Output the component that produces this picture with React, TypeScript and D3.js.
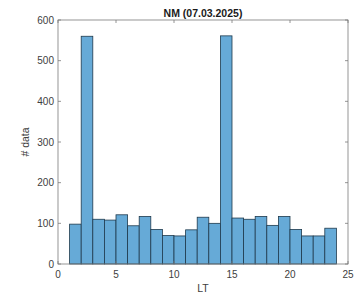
import React, { useEffect, useRef } from "react";
import * as d3 from "d3";

// histogram of LT, one bin per hour (bin edges 1..24)
const binEdges = [1, 2, 3, 4, 5, 6, 7, 8, 9, 10, 11, 12, 13, 14, 15, 16, 17, 18, 19, 20, 21, 22, 23, 24];
const counts = [98, 560, 110, 108, 121, 94, 117, 85, 70, 69, 84, 115, 100, 561, 113, 110, 117, 95, 117, 85, 69, 69, 88];
const xTicks = [0, 5, 10, 15, 20, 25];
const yTicks = [0, 100, 200, 300, 400, 500, 600];

const W = 358;
const H = 293;
const margin = { top: 20, right: 10, bottom: 29, left: 58 };

export default function App() {
  const ref = useRef<SVGSVGElement>(null);

  useEffect(() => {
    const svg = d3.select(ref.current);
    svg.selectAll("*").remove();

    const x = d3.scaleLinear().domain([0, 25]).range([margin.left, W - margin.right]);
    const y = d3.scaleLinear().domain([0, 600]).range([H - margin.bottom, margin.top]);

    const bins = counts.map((c, i) => ({ x0: binEdges[i], x1: binEdges[i + 1], c }));

    svg.append("g")
      .selectAll("rect")
      .data(bins)
      .enter()
      .append("rect")
      .attr("x", d => x(d.x0))
      .attr("y", d => y(d.c))
      .attr("width", d => x(d.x1) - x(d.x0))
      .attr("height", d => y(0) - y(d.c))
      .attr("fill", "#66aad7")
      .attr("stroke", "#1f3a4d")
      .attr("stroke-width", 0.8);

    const axisColor = "#7a7a7a";
    const font = "Liberation Sans, Arial, sans-serif";

    // box
    svg.append("rect")
      .attr("x", x(0))
      .attr("y", y(600))
      .attr("width", x(25) - x(0))
      .attr("height", y(0) - y(600))
      .attr("fill", "none")
      .attr("stroke", axisColor)
      .attr("stroke-width", 0.8);

    const tl = 3;
    // x ticks bottom + top
    xTicks.forEach(t => {
      svg.append("line").attr("x1", x(t)).attr("x2", x(t)).attr("y1", y(0)).attr("y2", y(0) - tl)
        .attr("stroke", axisColor).attr("stroke-width", 0.8);
      svg.append("line").attr("x1", x(t)).attr("x2", x(t)).attr("y1", y(600)).attr("y2", y(600) + tl)
        .attr("stroke", axisColor).attr("stroke-width", 0.8);
      svg.append("text").attr("x", x(t)).attr("y", y(0) + 14)
        .attr("text-anchor", "middle").attr("font-family", font).attr("font-size", 10)
        .attr("fill", "#404040").text(t);
    });
    // y ticks left + right
    yTicks.forEach(t => {
      svg.append("line").attr("x1", x(0)).attr("x2", x(0) + tl).attr("y1", y(t)).attr("y2", y(t))
        .attr("stroke", axisColor).attr("stroke-width", 0.8);
      svg.append("line").attr("x1", x(25)).attr("x2", x(25) - tl).attr("y1", y(t)).attr("y2", y(t))
        .attr("stroke", axisColor).attr("stroke-width", 0.8);
      svg.append("text").attr("x", x(0) - 4).attr("y", y(t) + 3.5)
        .attr("text-anchor", "end").attr("font-family", font).attr("font-size", 10)
        .attr("fill", "#404040").text(t);
    });

    svg.append("text").attr("x", (x(0) + x(25)) / 2).attr("y", 16.5)
      .attr("text-anchor", "middle").attr("font-family", font).attr("font-size", 10.5)
      .attr("font-weight", "bold").attr("fill", "#1a1a1a").text("NM (07.03.2025)");

    svg.append("text").attr("x", (x(0) + x(25)) / 2).attr("y", H - 1)
      .attr("text-anchor", "middle").attr("font-family", font).attr("font-size", 10.5)
      .attr("fill", "#404040").text("LT");

    svg.append("text")
      .attr("transform", `translate(29,${(y(0) + y(600)) / 2}) rotate(-90)`)
      .attr("text-anchor", "middle").attr("font-family", font).attr("font-size", 10.5)
      .attr("fill", "#404040").text("# data");
  }, []);

  return (
    <svg ref={ref} width={W} height={H} style={{ position: "absolute", left: 0, top: 0, background: "#fff" }} />
  );
}
